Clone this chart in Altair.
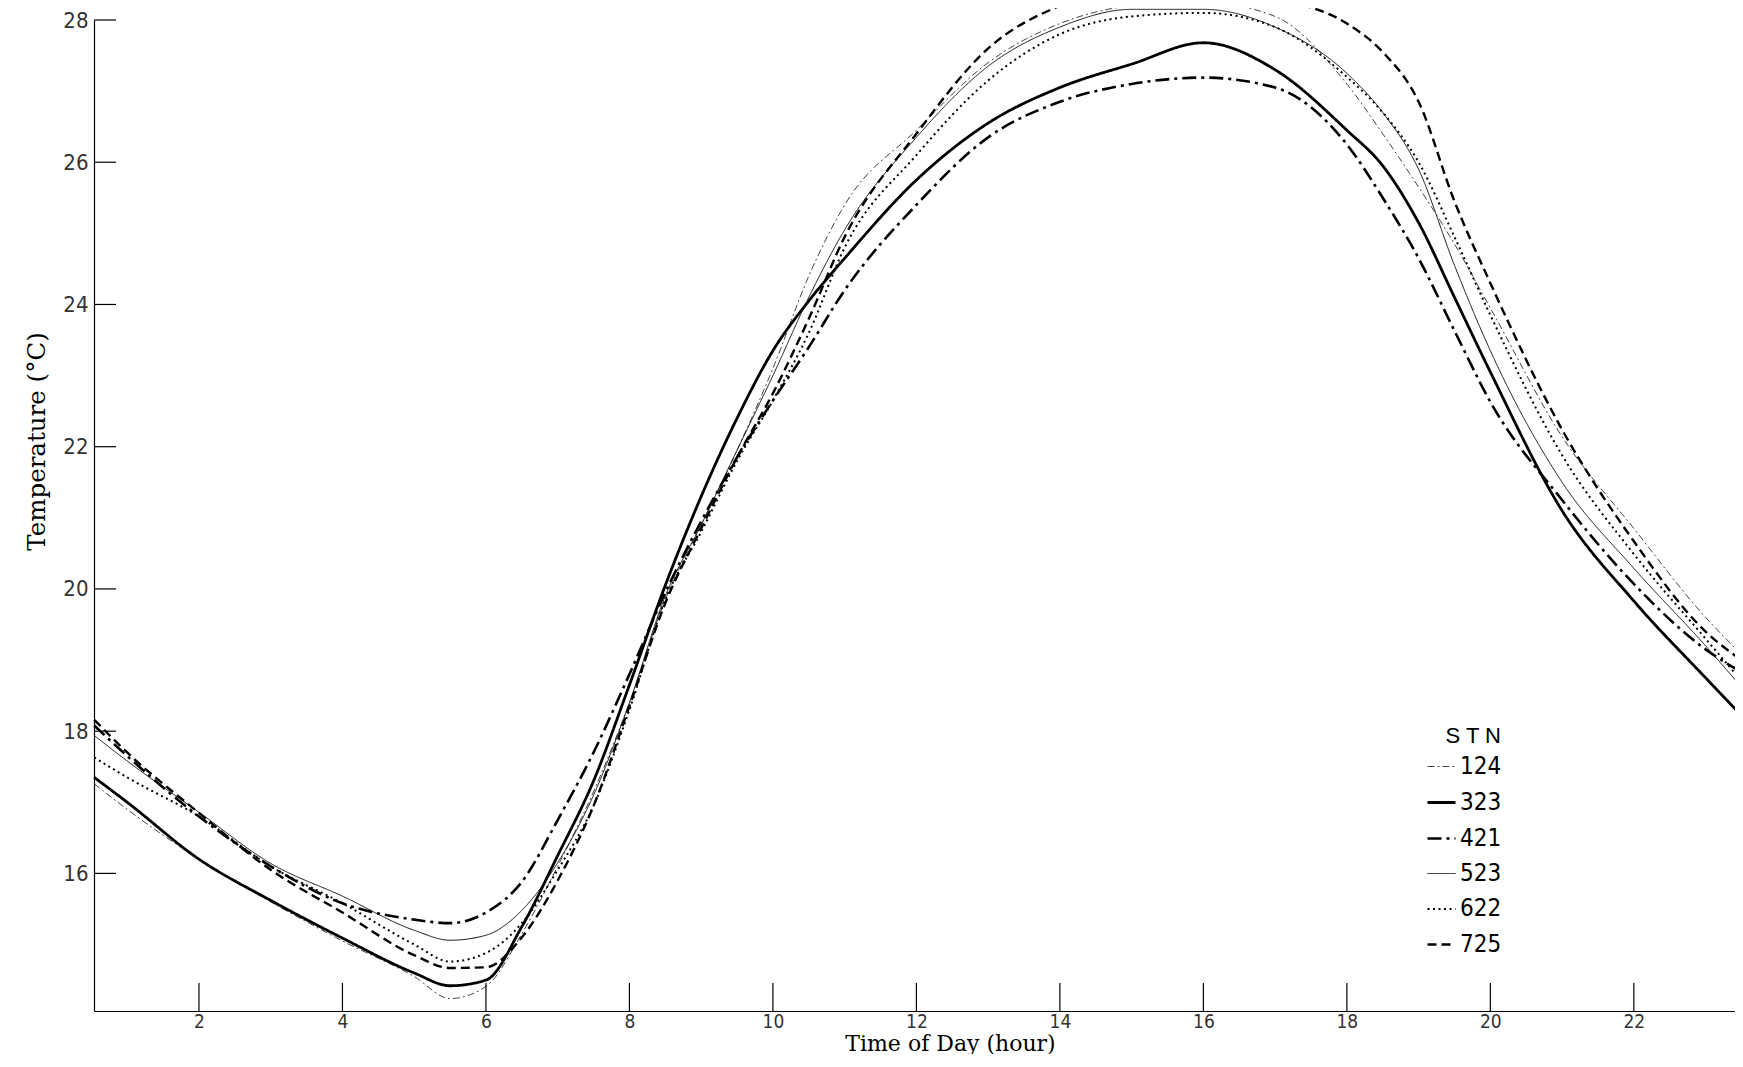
import altair as alt
import pandas as pd

hours = [0.54, 1, 2, 3, 4, 5, 5.5, 6, 6.5, 7, 7.5, 8, 8.5, 9, 9.5, 10, 10.5, 11,
         12, 13, 14, 15, 16, 17, 18, 18.5, 19, 19.5, 20, 21, 22, 23, 23.5]

t124 = [17.26, 16.9, 16.2, 15.6, 15.05, 14.55, 14.24, 14.41, 15.15, 16.1, 17.15, 18.4, 19.85, 20.9, 21.95, 23.1, 24.4, 25.4,
        26.45, 27.4, 27.95, 28.2, 28.25, 28.05, 27.1, 26.4, 25.65, 24.85, 23.95, 22.14, 20.85, 19.6, 19.08]
t323 = [17.35, 17.0, 16.2, 15.62, 15.09, 14.6, 14.42, 14.5, 15.25, 16.25, 17.3, 18.65, 20.05, 21.3, 22.4, 23.35, 24.05, 24.65,
        25.75, 26.55, 27.05, 27.38, 27.68, 27.3, 26.45, 25.95, 25.15, 24.1, 23.05, 21.1, 19.83, 18.75, 18.22]
t421 = [18.08, 17.65, 16.8, 16.1, 15.58, 15.35, 15.3, 15.45, 15.88, 16.75, 17.7, 18.8, 19.95, 20.95, 21.85, 22.65, 23.4, 24.2,
        25.4, 26.35, 26.85, 27.1, 27.19, 27.05, 26.25, 25.5, 24.65, 23.63, 22.63, 21.25, 20.07, 19.15, 18.83]
t523 = [17.94, 17.58, 16.86, 16.14, 15.68, 15.2, 15.06, 15.13, 15.48, 16.15, 17.1, 18.4, 19.9, 20.9, 21.95, 23.0, 24.1, 25.05,
        26.35, 27.35, 27.9, 28.15, 28.15, 27.9, 27.25, 26.7, 25.9, 24.55, 23.35, 21.5, 20.29, 19.2, 18.62]
t622 = [17.63, 17.35, 16.8, 16.1, 15.58, 15.0, 14.76, 14.88, 15.3, 16.05, 16.95, 18.3, 19.85, 20.8, 21.8, 22.65, 23.6, 24.8,
        26.1, 27.15, 27.8, 28.05, 28.1, 27.9, 27.2, 26.7, 26.0, 24.95, 23.85, 21.88, 20.49, 19.3, 18.71]
t725 = [18.16, 17.7, 16.85, 16.05, 15.45, 14.85, 14.67, 14.68, 15.1, 15.9, 16.95, 18.35, 19.8, 20.85, 21.85, 22.75, 23.8, 24.95,
        26.4, 27.6, 28.2, 28.45, 28.45, 28.3, 27.95, 27.55, 26.85, 25.45, 24.3, 22.24, 20.67, 19.4, 19.0]

stations = ["124", "323", "421", "523", "622", "725"]
series = [t124, t323, t421, t523, t622, t725]

x_ticks = [2, 4, 6, 8, 10, 12, 14, 16, 18, 20, 22]
y_ticks = [16, 18, 20, 22, 24, 26, 28]

dash_range = [[7, 3, 2, 3], [1, 0], [14, 5, 3, 5], [1, 0], [2, 3.5], [9, 5]]
width_range = [1.0, 2.8, 2.6, 1.0, 2.0, 2.4]
color_range = ["#444444", "#000000", "#000000", "#111111", "#000000", "#000000"]

rows = []
for s, vals in zip(stations, series):
    for h, v in zip(hours, vals):
        rows.append({"hour": h, "temp": v, "stn": s})
df = pd.DataFrame(rows)

W, H = 1641, 991
xscale = alt.Scale(domain=[0.537, 23.41], nice=False, zero=False)
yscale = alt.Scale(domain=[14.065, 28.0], nice=False, zero=False)

NARROW = "Liberation Sans Narrow, DejaVu Sans Condensed, sans-serif"
SERIF = "DejaVu Serif, Liberation Serif, serif"

leg = alt.Legend(
    title="S T N", orient="none", legendX=1332, legendY=706,
    titleFont="Liberation Sans, sans-serif", titleFontSize=22, titleFontWeight="normal",
    titleColor="#000", titleAnchor="end", titlePadding=4,
    labelFont=NARROW, labelFontSize=24, labelColor="#000", labelOffset=3,
    symbolType="stroke", symbolSize=784, rowPadding=8,
)

lines = alt.Chart(df).mark_line(interpolate="monotone", clip=False).encode(
    x=alt.X("hour:Q", scale=xscale,
            axis=alt.Axis(values=x_ticks, format="d", ticks=False, grid=False, domainColor="#000", domainWidth=1.2,
                          labelFont=NARROW, labelFontSize=19, labelColor="#333", labelPadding=1,
                          title="Time of Day (hour)", titleFont=SERIF, titleFontSize=22,
                          titleFontWeight="normal", titleColor="#000",
                          titleX=856, titleY=32, titleBaseline="middle", titleAlign="center")),
    y=alt.Y("temp:Q", scale=yscale,
            axis=alt.Axis(values=y_ticks, format="d", ticks=False, grid=False, domainColor="#000", domainWidth=1.2,
                          labelFont=NARROW, labelFontSize=22, labelColor="#333", labelPadding=6,
                          title="Temperature (°C)", titleFont=SERIF, titleFontSize=24.5,
                          titleFontWeight="normal", titleColor="#000",
                          titleX=-57, titleY=421, titleAngle=270, titleBaseline="middle", titleAlign="center")),
    strokeDash=alt.StrokeDash("stn:N", scale=alt.Scale(domain=stations, range=dash_range), legend=leg),
    strokeWidth=alt.StrokeWidth("stn:N", scale=alt.Scale(type="ordinal", domain=stations, range=width_range), legend=leg),
    color=alt.Color("stn:N", scale=alt.Scale(domain=stations, range=color_range), legend=leg),
)

xt = alt.Chart(pd.DataFrame({"h": x_ticks})).mark_rule(color="#000", strokeWidth=1.2).encode(
    x=alt.X("h:Q", scale=xscale), y=alt.value(H), y2=alt.value(H - 28))
yt = alt.Chart(pd.DataFrame({"t": y_ticks})).mark_rule(color="#000", strokeWidth=1.2).encode(
    y=alt.Y("t:Q", scale=yscale), x=alt.value(0), x2=alt.value(22))

chart = alt.layer(lines, xt, yt).properties(
    width=W, height=H,
    background="white",
    autosize=alt.AutoSizeParams(type="none"),
    padding={"left": 86, "top": 12, "right": 0, "bottom": 43},
).configure_view(strokeWidth=0, stroke=None).configure_axis(grid=False)

chart.save("out.html", embed_options={"renderer": "svg", "actions": False})
